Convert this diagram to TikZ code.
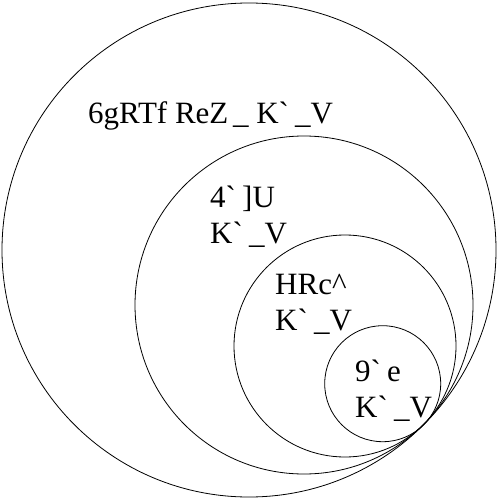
\documentclass[tikz,border=0pt]{standalone}
\usepackage{fontspec}
\setmainfont{Liberation Serif}
\usetikzlibrary{positioning}
\tikzset{
  ring/.style={circle, draw, line width=0.8pt, inner sep=0pt, minimum size=#1},
  lbl/.style={font=\fontsize{31}{36}\selectfont, align=left, inner sep=0pt, anchor=base west},
}
\newcommand{\kword}{K\textasciigrave\hspace{0.2em}\_V}

\begin{document}
\begin{tikzpicture}[x=1pt, y=-1pt]
  \useasboundingbox (0,0) rectangle (498,500);
  % nested rings, all touching at the lower right
  \node[ring=494pt] (outer) at (249,250) {};
  \node[ring=338pt] (second) at (304,305) {};
  \node[ring=222pt] (third) at (345,346) {};
  \node[ring=116pt] (inner) at (382.7,383.7) {};

  % base anchor sits on the last line
  \node[lbl] (outerlbl) at (88,123) {6gRTf ReZ\hspace{0.15em}\_ \kword};
  \node[lbl] (secondlbl) at (210,243) {4\textasciigrave\hspace{0.2em}]U\\\kword};
  \node[lbl] (thirdlbl) at (275,330) {HRc\textasciicircum\\\kword};
  \node[lbl] (innerlbl) at (355,417) {9\textasciigrave\hspace{0.2em}e\\\kword};
\end{tikzpicture}
\end{document}
